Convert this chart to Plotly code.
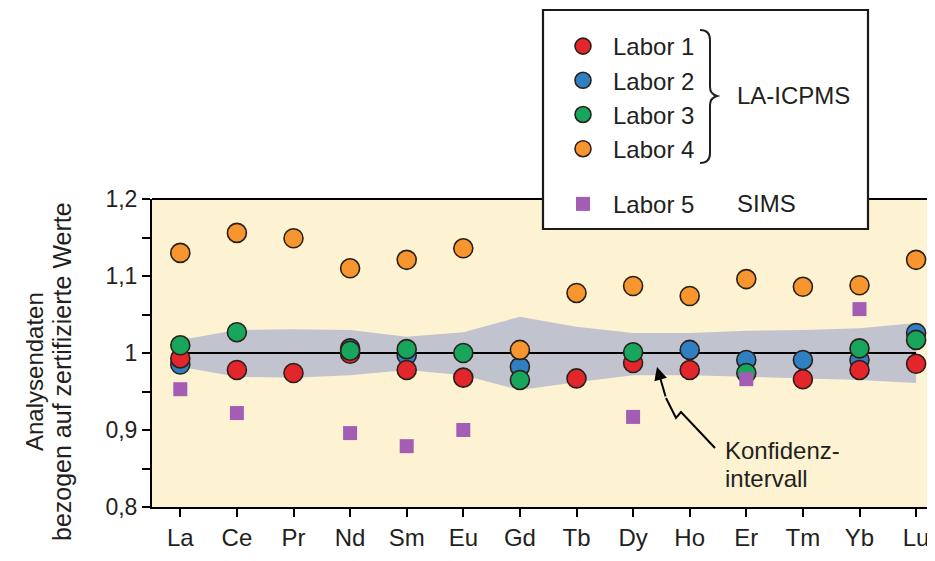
import plotly.graph_objects as go

elements = ["La", "Ce", "Pr", "Nd", "Sm", "Eu", "Gd", "Tb", "Dy", "Ho", "Er", "Tm", "Yb", "Lu"]

labor1 = [0.993, 0.978, 0.974, 0.999, 0.978, 0.968, None, 0.967, 0.987, 0.978, None, 0.966, 0.978, 0.986]
labor2 = [0.985, None, None, 1.006, 0.997, None, 0.982, None, None, 1.004, 0.991, 0.991, 0.991, 1.026]
labor3 = [1.010, 1.027, None, 1.003, 1.005, 1.000, 0.965, None, 1.001, None, 0.974, None, 1.006, 1.017]
labor4 = [1.130, 1.156, 1.149, 1.110, 1.121, 1.136, 1.004, 1.078, 1.087, 1.074, 1.096, 1.086, 1.088, 1.121]
labor5 = [0.953, 0.922, None, 0.896, 0.879, 0.900, None, None, 0.917, None, 0.966, None, 1.057, None]

band_upper = [1.017, 1.030, 1.031, 1.030, 1.021, 1.027, 1.047, 1.034, 1.026, 1.026, 1.029, 1.030, 1.032, 1.039]
band_lower = [0.982, 0.969, 0.968, 0.971, 0.978, 0.971, 0.952, 0.962, 0.971, 0.971, 0.969, 0.967, 0.965, 0.961]

y_ticks = [0.8, 0.85, 0.9, 0.95, 1.0, 1.05, 1.1, 1.15, 1.2]
y_ticktext = ["0,8", "", "0,9", "", "1", "", "1,1", "", "1,2"]
reference_value = 1.0

FONT = "Liberation Sans, Arial, sans-serif"
TXT = "#231f20"
OUT = "#2a1f1a"
BAND = "#c1c4ce"

# geometry: the page body has an 8px margin, so the figure is 8px smaller
OFF = 8
W, H = 935 - OFF, 561 - OFF
PLOT_L, PLOT_T, PLOT_B = 152, 199, 507          # plot area in window pixels
L, T = PLOT_L - OFF, PLOT_T - OFF
B = H - (PLOT_B - OFF)
R = 0
PW, PH = W - L - R, H - T - B


def px(xp):
    return (xp - PLOT_L) / PW


def py(yp):
    return (PLOT_B - yp) / PH


fig = go.Figure()

# confidence band
fig.add_trace(go.Scatter(x=elements, y=band_upper, mode="lines", line=dict(width=0, color=BAND),
                         showlegend=False, hoverinfo="skip"))
fig.add_trace(go.Scatter(x=elements, y=band_lower, mode="lines", line=dict(width=0, color=BAND),
                         fill="tonexty", fillcolor=BAND, showlegend=False, hoverinfo="skip"))

# reference line at 1
fig.add_trace(go.Scatter(x=[elements[0], elements[-1]], y=[reference_value, reference_value], mode="lines",
                         line=dict(color="black", width=2), showlegend=False, hoverinfo="skip"))

series = [
    ("Labor 2", labor2, "#2f7fc1", 2),
    ("Labor 1", labor1, "#e3262b", 1),
    ("Labor 3", labor3, "#17a65c", 3),
    ("Labor 4", labor4, "#f7962f", 4),
]
for name, vals, col, rank in series:
    fig.add_trace(go.Scatter(
        x=elements, y=vals, mode="markers", name=name, legendrank=rank, legendgroup="icp",
        marker=dict(size=19, color=col, line=dict(color=OUT, width=1.6)),
    ))
fig.add_trace(go.Scatter(
    x=elements, y=labor5, mode="markers", name="Labor 5", legendrank=5, legendgroup="sims",
    marker=dict(size=14, symbol="square", color="#a45db4", line=dict(width=0)),
))

shapes = [
    # top frame line
    dict(type="line", xref="paper", yref="paper", x0=0, x1=1, y0=1, y1=1,
         line=dict(color="black", width=2), layer="above"),
    # legend box
    dict(type="rect", xref="paper", yref="paper", x0=px(543), x1=px(868), y0=py(229), y1=py(10),
         fillcolor="white", line=dict(color="#1a1a1a", width=2.2), layer="above"),
]

# brace
bx, btop, bmid, bbot = 710, 30, 96, 163
brace = (f"M {px(bx-10)},{py(btop)} Q {px(bx)},{py(btop)} {px(bx)},{py(btop+10)} "
         f"L {px(bx)},{py(bmid-9)} Q {px(bx)},{py(bmid-2)} {px(bx+7)},{py(bmid)} "
         f"Q {px(bx)},{py(bmid+2)} {px(bx)},{py(bmid+9)} "
         f"L {px(bx)},{py(bbot-10)} Q {px(bx)},{py(bbot)} {px(bx-10)},{py(bbot)}")
shapes.append(dict(type="path", xref="paper", yref="paper", path=brace,
                   line=dict(color=TXT, width=2), layer="above"))

# squiggly arrow tail
squig = (f"M {px(715)},{py(448)} L {px(681)},{py(412)} L {px(676)},{py(418)} L {px(666)},{py(398)}")
shapes.append(dict(type="path", xref="paper", yref="paper", path=squig,
                   line=dict(color="black", width=2), layer="above"))

annotations = [
    dict(xref="paper", yref="paper", x=px(657), y=py(367), ax=9, ay=31, text="", showarrow=True,
         arrowhead=2, arrowsize=1.3, arrowwidth=2, arrowcolor="black"),
    dict(xref="paper", yref="paper", x=px(723), y=py(450), text="Konfidenz-", showarrow=False,
         xanchor="left", yanchor="middle", font=dict(size=24, color=TXT, family=FONT)),
    dict(xref="paper", yref="paper", x=px(723), y=py(478), text="intervall", showarrow=False,
         xanchor="left", yanchor="middle", font=dict(size=24, color=TXT, family=FONT)),
    dict(xref="paper", yref="paper", x=px(735), y=py(95), text="LA-ICPMS", showarrow=False,
         xanchor="left", yanchor="middle", font=dict(size=24, color=TXT, family=FONT)),
    dict(xref="paper", yref="paper", x=px(735), y=py(203), text="SIMS", showarrow=False,
         xanchor="left", yanchor="middle", font=dict(size=24, color=TXT, family=FONT)),
    dict(xref="paper", yref="paper", x=px(34), y=py(372), text="Analysendaten", showarrow=False,
         textangle=-90, xanchor="center", yanchor="middle", font=dict(size=24, color=TXT, family=FONT)),
    dict(xref="paper", yref="paper", x=px(62), y=py(372), text="bezogen auf zertifizierte Werte",
         showarrow=False, textangle=-90, xanchor="center", yanchor="middle",
         font=dict(size=25, color=TXT, family=FONT)),
]

fig.update_layout(
    width=W, height=H,
    margin=dict(l=L, r=R, t=T, b=B, pad=0),
    paper_bgcolor="white",
    plot_bgcolor="#fdf3d2",
    font=dict(family=FONT, size=24, color=TXT),
    shapes=shapes,
    annotations=annotations,
    showlegend=True,
    legend=dict(x=px(553), y=py(24), xanchor="left", yanchor="top", itemwidth=50,
                bgcolor="rgba(0,0,0,0)", borderwidth=0, traceorder="grouped",
                tracegroupgap=21, font=dict(size=24, color=TXT, family=FONT)),
    xaxis=dict(type="category", categoryorder="array", categoryarray=elements,
               range=[-0.5, -0.5 + PW / 56.6], showgrid=False, zeroline=False,
               showline=True, linecolor="black", linewidth=2,
               ticks="outside", ticklen=8, tickwidth=1.5, tickcolor="black",
               tickfont=dict(size=24, color=TXT, family=FONT), ticklabelstandoff=0),
    yaxis=dict(range=[0.8, 1.2], tickvals=y_ticks, ticktext=y_ticktext,
               showgrid=False, zeroline=False,
               showline=True, linecolor="black", linewidth=2,
               ticks="outside", ticklen=8, tickwidth=1.5, tickcolor="black",
               tickfont=dict(size=23, color=TXT, family=FONT)),
)

fig.write_html("out.html")
